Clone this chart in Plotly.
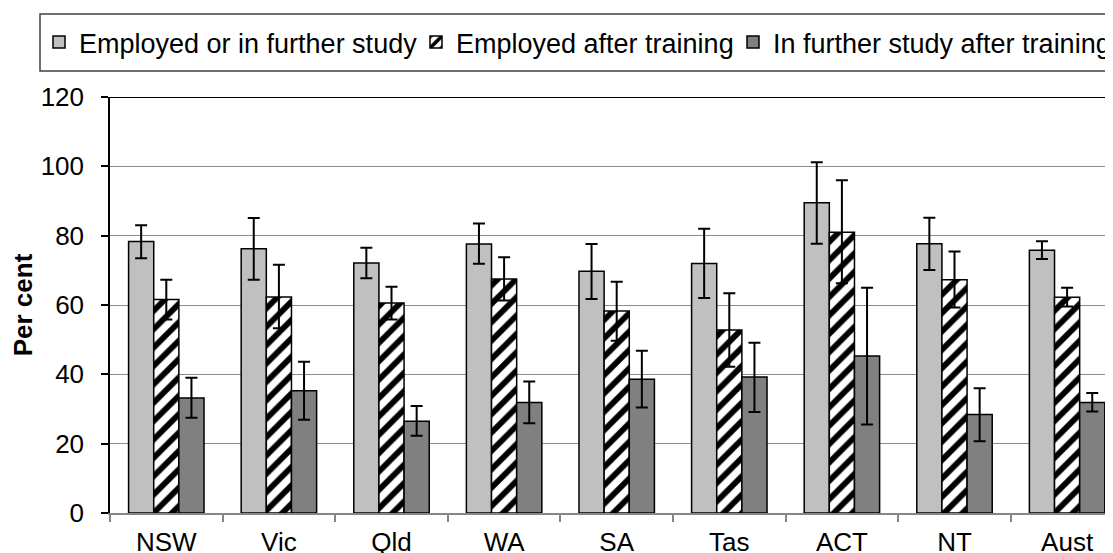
import plotly.graph_objects as go

categories = ['NSW', 'Vic', 'Qld', 'WA', 'SA', 'Tas', 'ACT', 'NT', 'Aust']

emp_or_study = [78.3, 76.2, 72.1, 77.6, 69.7, 72.0, 89.5, 77.7, 75.8]
emp_or_study_lo = [73.5, 67.3, 67.7, 71.9, 61.7, 62.0, 77.7, 70.1, 73.3]
emp_or_study_hi = [83.0, 85.1, 76.5, 83.5, 77.6, 82.0, 101.2, 85.2, 78.4]

employed = [61.6, 62.3, 60.6, 67.5, 58.3, 52.8, 81.0, 67.3, 62.2]
employed_lo = [55.8, 53.3, 55.8, 61.3, 49.7, 42.2, 66.3, 59.3, 59.6]
employed_hi = [67.3, 71.6, 65.3, 73.8, 66.7, 63.4, 96.0, 75.4, 65.0]

further_study = [33.2, 35.3, 26.5, 31.9, 38.6, 39.2, 45.3, 28.4, 31.9]
further_study_lo = [27.5, 26.9, 22.3, 25.9, 30.4, 29.1, 25.5, 20.7, 29.3]
further_study_hi = [39.0, 43.6, 30.9, 37.9, 46.8, 49.1, 65.0, 36.0, 34.6]

y_ticks = [0, 20, 40, 60, 80, 100, 120]

FONT = "Liberation Sans, Arial, sans-serif"
# page body has an 8px margin, so the figure is drawn 8px right/down
W, H = 1105, 545
ML, MR, MT, MB = 102, 0, 89, 40
CAT_PX = 112.6
PLOT_W = W - ML - MR
PLOT_H = H - MT - MB


def err(vals, lo, hi):
    return dict(
        type='data', symmetric=False,
        array=[h - v for v, h in zip(vals, hi)],
        arrayminus=[v - l for v, l in zip(vals, lo)],
        color='black', thickness=2, width=6, visible=True,
    )


def legend_at(px_x):
    return dict(
        orientation='h', xref='container', yref='container',
        x=px_x / W, xanchor='left', y=1 - 34.5 / H, yanchor='middle',
        font=dict(family=FONT, size=27, color='black'),
        bgcolor='rgba(0,0,0,0)', borderwidth=0,
    )


fig = go.Figure()
fig.add_trace(go.Bar(
    name='Employed or in further study', x=categories, y=emp_or_study,
    marker=dict(color='#C0C0C0', line=dict(color='black', width=1.5)),
    error_y=err(emp_or_study, emp_or_study_lo, emp_or_study_hi),
    legend='legend',
))
fig.add_trace(go.Bar(
    name='Employed after training', x=categories, y=employed,
    marker=dict(color='white', line=dict(color='black', width=1.5),
                pattern=dict(shape='/', fgcolor='black', bgcolor='white',
                             fgopacity=1, fillmode='replace',
                             size=13, solidity=0.45)),
    error_y=err(employed, employed_lo, employed_hi),
    legend='legend2',
))
fig.add_trace(go.Bar(
    name='In further study after training', x=categories, y=further_study,
    marker=dict(color='#808080', line=dict(color='black', width=1.5)),
    error_y=err(further_study, further_study_lo, further_study_hi),
    legend='legend3',
))

x_hi = -0.5 + PLOT_W / CAT_PX

fig.update_layout(
    width=W, height=H,
    margin=dict(l=ML, r=MR, t=MT, b=MB, autoexpand=False),
    paper_bgcolor='white', plot_bgcolor='white',
    font=dict(family=FONT, size=26, color='black'),
    barmode='group', bargap=0.33, bargroupgap=0,
    showlegend=True,
    legend=legend_at(31),
    legend2=legend_at(408),
    legend3=legend_at(725),
    xaxis=dict(
        type='category', range=[-0.5, x_hi],
        showline=True, linecolor='#868686', linewidth=1.5,
        ticks='outside', tickson='boundaries', ticklen=7,
        tickcolor='#868686', tickwidth=1.5,
        showgrid=False, zeroline=False,
        tickfont=dict(family=FONT, size=26, color='black'),
        ticklabelstandoff=5,
        automargin=False,
    ),
    yaxis=dict(
        range=[0, 120], tickvals=y_ticks, ticktext=[str(v) for v in y_ticks],
        showline=True, linecolor='black', linewidth=1.5,
        ticks='outside', ticklen=7, tickcolor='black', tickwidth=1.5,
        showgrid=True, gridcolor='#8C8C8C', gridwidth=1.2,
        zeroline=False,
        tickfont=dict(family=FONT, size=26, color='black'),
        ticklabelstandoff=12,
        title=dict(text='<b>Per cent</b>', font=dict(family=FONT, size=26, color='black'),
                   standoff=4),
        automargin=False,
    ),
    shapes=[
        dict(type='line', xref='paper', yref='y', x0=0, x1=1, y0=120, y1=120,
             line=dict(color='black', width=2)),
        dict(type='rect', xref='paper', yref='paper',
             x0=(32 - ML) / PLOT_W, x1=(W + 10 - ML) / PLOT_W,
             y0=1 + (MT - 63) / PLOT_H, y1=1 + (MT - 6) / PLOT_H,
             line=dict(color='#404040', width=1.5), fillcolor='rgba(0,0,0,0)'),
    ],
)

fig.write_html("out.html")
